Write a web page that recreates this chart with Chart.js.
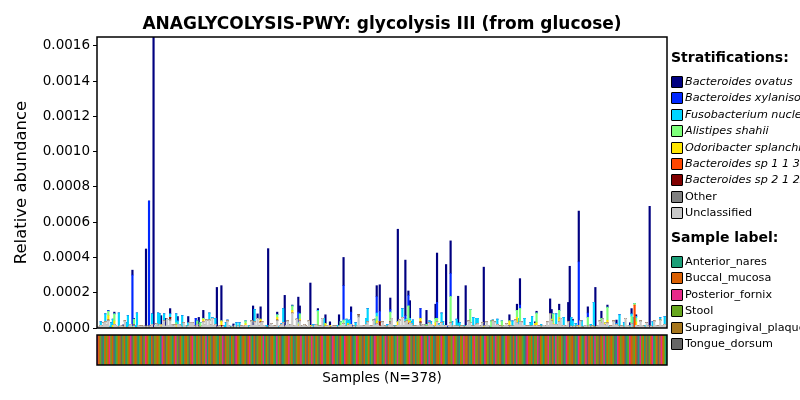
<!DOCTYPE html>
<html>
<head>
<meta charset="utf-8">
<script src="https://cdn.jsdelivr.net/npm/chart.js@4.4.0/dist/chart.umd.min.js"></script>
<style>
  body { margin: 0; width: 800px; height: 400px; overflow: hidden; position: relative; background: #fff; font-family: "DejaVu Sans", sans-serif; color: #000; }
  canvas { position: absolute; left: 0; top: 0; }
  .txt { position: absolute; white-space: nowrap; }
  .sw { position: absolute; width: 10px; height: 10px; border: 1px solid #000; border-radius: 1px; }
</style>
</head>
<body>
<canvas id="main" width="800" height="400"></canvas>
<canvas id="strip" width="800" height="400"></canvas>
<div class="txt" style="left:0;width:764px;text-align:center;top:12px;line-height:22px;font-size:17px;font-weight:bold;">ANAGLYCOLYSIS-PWY: glycolysis III (from glucose)</div>
<div class="txt" style="left:0;width:764px;text-align:center;top:368px;line-height:18px;font-size:13.5px;">Samples (N=378)</div>
<div id="legend"></div>
<script>
const N = 378;

// values in units of 1e-6, [sample index, value]
const ovatus = [[11,10],[17,8],[23,28],[24,5],[32,448],[37,1650],[42,50],[45,45],[48,30],[53,25],[60,35],[67,55],[70,45],[79,230],[82,200],[90,18],[103,110],[106,25],[108,70],[113,450],[119,15],[124,180],[129,5],[133,85],[134,45],[141,240],[146,10],[151,50],[154,20],[160,60],[163,160],[168,30],[185,62],[187,150],[194,65],[199,525],[204,315],[206,25],[207,100],[218,80],[224,80],[225,280],[231,345],[234,185],[239,155],[244,230],[256,335],[273,35],[278,35],[280,150],[290,10],[291,10],[300,85],[301,55],[306,35],[312,110],[313,350],[315,10],[319,288],[325,35],[330,225],[334,40],[338,12],[344,20],[353,15],[354,30],[357,10],[366,690]];
const xylanisolvens = [[7,5],[23,290],[34,720],[65,50],[133,60],[163,195],[168,70],[169,10],[185,93],[187,60],[194,15],[204,20],[206,60],[214,55],[225,90],[232,10],[234,130],[280,20],[319,360],[325,25]];
const fusobacterium = [[2,20],[5,45],[8,10],[9,30],[10,35],[14,80],[19,30],[20,70],[25,15],[26,85],[36,60],[40,75],[41,60],[44,40],[48,20],[52,50],[53,20],[56,70],[59,15],[60,20],[74,40],[76,5],[78,35],[84,15],[85,30],[86,5],[88,10],[92,30],[94,30],[100,15],[104,70],[112,15],[120,10],[122,5],[123,80],[143,20],[146,5],[150,50],[159,15],[160,5],[165,40],[166,15],[167,25],[171,30],[178,35],[179,75],[184,35],[185,20],[192,15],[197,15],[202,50],[204,15],[207,15],[208,10],[209,35],[220,10],[221,15],[223,10],[226,10],[228,55],[229,20],[235,30],[238,40],[239,15],[240,30],[243,15],[249,50],[251,35],[252,30],[260,10],[265,30],[275,30],[279,35],[283,40],[287,20],[288,55],[294,20],[304,60],[309,45],[314,50],[315,35],[317,25],[321,35],[322,10],[327,20],[329,140],[339,10],[344,5],[346,70],[349,30],[353,15],[354,15],[355,55],[357,10],[363,15],[368,30],[373,13],[376,45]];
const alistipes = [[7,25],[11,40],[23,10],[24,30],[52,15],[66,20],[68,30],[70,5],[98,15],[119,15],[129,25],[133,10],[134,30],[146,85],[161,20],[163,20],[185,25],[194,55],[205,10],[206,85],[218,10],[224,25],[225,20],[234,150],[247,75],[261,40],[262,5],[268,40],[278,40],[280,75],[291,55],[302,55],[306,40],[325,55],[334,25],[338,74],[354,40],[356,10],[357,20]];
const odoribacter = [[7,25],[10,15],[11,20],[17,5],[42,15],[52,15],[70,15],[82,25],[90,5],[98,10],[108,15],[119,15],[129,15],[133,10],[134,10],[141,10],[151,15],[154,15],[166,10],[185,15],[199,20],[206,15],[207,10],[214,20],[224,20],[256,10],[273,25],[278,30],[290,15],[291,15],[301,10],[302,5],[306,25],[319,15],[330,5],[336,10],[338,15],[357,20]];
const sp113 = [[356,130]];
const sp212 = [[48,10],[82,10],[108,5],[187,25],[206,5],[214,5]];
const other = [[7,5],[24,10],[48,10],[82,5],[119,5],[173,15],[194,15],[214,20],[273,10]];
const unclassified = [
  10,8,15,12,30,35,20,40,0,0,0,20,15,8,5,15,10,5,40,0,
  0,10,20,0,10,0,0,15,10,12,8,10,0,10,0,12,20,0,15,25,
  10,20,5,20,40,10,50,15,40,20,12,18,0,20,20,10,0,30,15,0,
  10,30,30,30,12,5,20,5,0,10,35,20,45,15,45,18,55,10,20,0,
  8,12,0,10,0,0,40,10,0,8,0,15,0,10,0,12,10,8,15,15,
  0,10,40,15,35,15,55,12,30,35,10,8,0,0,12,25,15,10,12,40,
  0,10,20,30,5,15,40,10,20,85,12,15,50,10,40,10,15,20,12,8,
  40,5,10,0,15,20,10,10,12,55,5,10,10,15,0,8,10,12,10,0,
  10,15,15,25,10,10,15,20,20,5,12,0,10,60,15,15,12,10,20,35,
  15,10,12,45,15,25,15,10,10,35,12,8,5,15,20,55,10,0,12,15,
  45,15,60,10,35,40,20,30,25,10,12,10,15,15,10,10,20,12,10,10,
  30,20,15,0,10,35,15,10,30,15,12,15,0,10,29,5,15,10,10,10,
  0,12,10,0,10,15,40,30,12,10,10,20,25,15,10,30,0,12,35,10,
  0,0,40,35,15,20,10,12,0,10,15,25,10,5,12,10,10,45,30,20,
  35,35,15,15,10,12,10,10,10,15,10,15,10,12,0,10,15,12,35,10,
  80,40,20,15,20,10,35,55,12,15,10,15,35,0,10,5,10,0,12,0,
  40,5,0,10,15,5,10,0,12,5,0,10,15,40,30,50,20,10,29,0,
  12,10,40,15,20,10,5,12,10,0,55,15,10,0,25,5,0,15,12,10,
  40,15,10,0,30,12,0,10,5,40,15,10,12,45,10,15,20,10
];

// 0 Anterior_nares, 1 Buccal_mucosa, 2 Posterior_fornix, 3 Stool, 4 Supragingival_plaque, 5 Tongue_dorsum
const sampleSites = [
  2,1,3,5,0,1,3,1,2,3,1,5,0,3,1,4,5,3,1,0,
  3,1,2,5,3,1,4,0,3,1,5,3,2,1,3,0,1,5,3,4,
  1,3,0,2,1,5,3,1,4,3,0,1,2,3,5,1,3,0,4,1,
  3,5,1,2,3,0,1,3,4,5,1,3,2,0,1,3,5,1,4,3,
  0,1,3,2,5,1,3,4,0,1,3,5,2,1,3,0,4,1,3,5,
  1,2,3,0,1,5,3,4,1,3,2,0,1,3,5,4,1,3,0,2,
  3,1,5,0,3,4,1,2,3,1,0,5,3,1,4,2,3,0,1,5,
  1,3,2,4,0,1,3,5,1,2,3,0,4,1,3,5,2,1,0,3,
  5,1,3,0,2,1,4,3,1,5,0,3,2,1,3,4,5,1,0,3,
  1,0,3,5,2,1,3,4,1,0,3,2,5,1,3,1,4,0,3,2,
  3,1,4,5,0,3,1,2,3,5,1,0,4,3,1,2,5,3,1,0,
  2,3,1,0,5,4,1,3,2,1,3,0,5,1,4,3,2,1,3,5,
  0,1,3,2,4,1,5,3,0,1,2,3,4,5,1,3,0,2,1,3,
  5,3,1,0,2,4,3,1,5,0,3,2,1,4,3,5,1,0,2,3,
  1,4,3,0,5,2,1,3,1,0,4,3,2,5,1,3,0,1,4,2,
  3,5,1,0,2,3,4,1,3,5,0,2,1,3,4,1,5,3,0,2,
  1,3,0,4,2,5,1,3,1,0,2,3,4,5,1,3,2,0,1,3,
  4,1,3,5,0,2,1,3,4,1,5,0,3,2,1,4,3,1,5,0,
  2,3,1,0,4,5,3,1,2,0,3,1,5,4,2,1,3,0
];

const strataNames = ["Bacteroides ovatus", "Bacteroides xylanisolvens", "Fusobacterium nucleatum", "Alistipes shahii", "Odoribacter splanchnicus", "Bacteroides sp 1 1 30", "Bacteroides sp 2 1 22", "Other", "Unclassified"];
const strataColors = ["#000080", "#0028ff", "#00d4ff", "#7dff7a", "#ffe600", "#ff4700", "#800000", "#808080", "#c8c8c8"];
const siteNames = ["Anterior_nares", "Buccal_mucosa", "Posterior_fornix", "Stool", "Supragingival_plaque", "Tongue_dorsum"];
const siteColors = ["#1b9e77", "#d95f02", "#e7298a", "#66a61e", "#a6761d", "#666666"];
const yTicks = [0, 0.0002, 0.0004, 0.0006, 0.0008, 0.0010, 0.0012, 0.0014, 0.0016];

function dense(pairs) {
  const a = new Array(N).fill(0);
  pairs.forEach(([i, v]) => { a[i] = v * 1e-6; });
  return a;
}

const labels = Array.from({ length: N }, (_, i) => "S" + (i + 1));
const seriesData = [
  dense(ovatus), dense(xylanisolvens), dense(fusobacterium), dense(alistipes),
  dense(odoribacter), dense(sp113), dense(sp212), dense(other),
  unclassified.map(v => v * 1e-6)
];

// bottom of the stack first: unclassified, other, ..., ovatus on top
const datasets = [];
for (let k = strataNames.length - 1; k >= 0; k--) {
  datasets.push({
    label: strataNames[k],
    data: seriesData[k],
    backgroundColor: strataColors[k],
    borderWidth: 0,
    barPercentage: 1.0,
    categoryPercentage: 1.0
  });
}

const frame = {
  id: "frame",
  afterDraw(chart) {
    const { ctx, chartArea: a } = chart;
    ctx.save();
    ctx.strokeStyle = "#000";
    ctx.lineWidth = 1.5;
    ctx.strokeRect(a.left, a.top, a.right - a.left, a.bottom - a.top);
    ctx.restore();
  }
};

new Chart(document.getElementById("main"), {
  type: "bar",
  data: { labels, datasets },
  options: {
    responsive: false,
    animation: false,
    layout: { padding: { top: 37, right: 133, bottom: 72, left: 0 } },
    plugins: { legend: { display: false }, tooltip: { enabled: false } },
    scales: {
      x: { stacked: true, display: false },
      y: {
        stacked: true,
        min: 0,
        max: 0.00165,
        afterFit: s => { s.width = 97; },
        afterBuildTicks: s => { s.ticks = yTicks.map(v => ({ value: v })); },
        ticks: {
          callback: v => Number(v).toFixed(4),
          color: "#000",
          padding: 3,
          font: { family: "DejaVu Sans", size: 13.5 }
        },
        grid: { drawOnChartArea: false, drawTicks: true, tickLength: 4, color: "#000" },
        border: { display: false },
        title: {
          display: true,
          text: "Relative abundance",
          color: "#000",
          padding: { top: 12, bottom: 0 },
          font: { family: "DejaVu Sans", size: 16.5 }
        }
      }
    }
  },
  plugins: [frame]
});

new Chart(document.getElementById("strip"), {
  type: "bar",
  data: {
    labels,
    datasets: [{
      data: sampleSites.map(() => 1),
      backgroundColor: sampleSites.map(s => siteColors[s]),
      borderWidth: 0,
      barPercentage: 1.0,
      categoryPercentage: 1.0
    }]
  },
  options: {
    responsive: false,
    animation: false,
    layout: { padding: { top: 335, right: 133, bottom: 35, left: 97 } },
    plugins: { legend: { display: false }, tooltip: { enabled: false } },
    scales: {
      x: { display: false },
      y: { display: false, min: 0, max: 1 }
    }
  },
  plugins: [frame]
});

// legend
const legend = document.getElementById("legend");
function addText(text, x, cy, size, extra) {
  const d = document.createElement("div");
  d.className = "txt";
  d.textContent = text;
  d.style.left = x + "px";
  d.style.top = (cy - 8) + "px";
  d.style.lineHeight = "16px";
  d.style.fontSize = size + "px";
  if (extra) Object.assign(d.style, extra);
  legend.appendChild(d);
}
function addSwatch(color, cy) {
  const s = document.createElement("div");
  s.className = "sw";
  s.style.left = "671px";
  s.style.top = (cy - 6) + "px";
  s.style.background = color;
  legend.appendChild(s);
}
addText("Stratifications:", 671, 57, 14, { fontWeight: "bold" });
strataNames.forEach((name, k) => {
  const cy = 82 + 16.4 * k;
  addSwatch(strataColors[k], cy);
  addText(name, 685, cy, 11.2, k < 7 ? { fontStyle: "italic" } : null);
});
addText("Sample label:", 671, 237, 14, { fontWeight: "bold" });
siteNames.forEach((name, k) => {
  const cy = 262 + 16.4 * k;
  addSwatch(siteColors[k], cy);
  addText(name, 685, cy, 11.2);
});
</script>
</body>
</html>
